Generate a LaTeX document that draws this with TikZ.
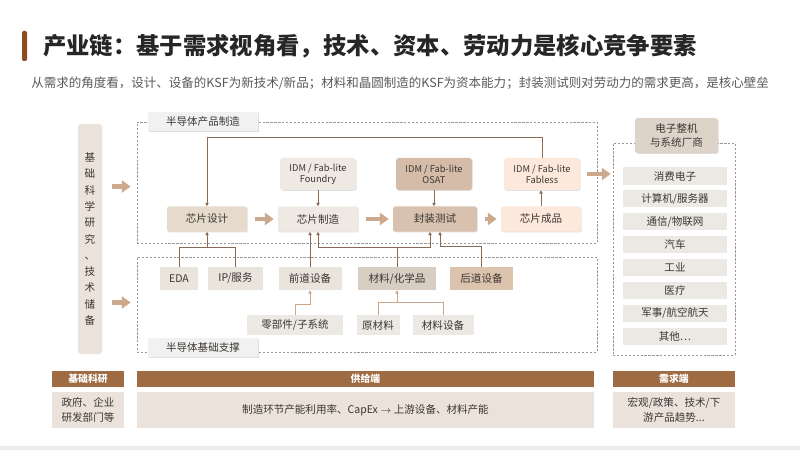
\documentclass[tikz,border=0pt]{standalone}
\usepackage{fontspec}
\setmainfont{Noto Sans CJK SC}
\usepackage{tikz}
\usetikzlibrary{positioning, arrows.meta, shadows}

\definecolor{bark}{HTML}{8E4B23}
\definecolor{ink}{HTML}{3A3632}
\definecolor{linkc}{HTML}{8A6B55}
\definecolor{palelinkc}{HTML}{C9A68C}
\definecolor{flowc}{HTML}{CCA98C}
\definecolor{sand}{HTML}{EBE3DB}
\definecolor{mist}{HTML}{ECE8E4}
\definecolor{fog}{HTML}{F1F1F1}
\definecolor{hdrc}{HTML}{9E6B43}
\definecolor{designc}{HTML}{E5DACB}
\definecolor{fabc}{HTML}{EFE9E3}
\definecolor{packc}{HTML}{D8C1AF}
\definecolor{osatc}{HTML}{D5BCA8}
\definecolor{finalc}{HTML}{FCE9DC}
\definecolor{oemc}{HTML}{DDD3C9}
\definecolor{lightc}{HTML}{E9E4DC}
\definecolor{matc}{HTML}{D8CDC3}
\definecolor{bec}{HTML}{DCC3AE}

\begin{document}
\begin{tikzpicture}[x=0.25mm, y=-0.25mm,
  font=\fontsize{7.5}{9}\selectfont, text=ink,
  shade/.style={drop shadow={shadow xshift=0.5pt, shadow yshift=-0.7pt, opacity=0.25}},
  stage/.style={rounded corners=1.5pt, minimum width=20mm, minimum height=6.25mm,
                inner sep=0pt, shade},
  maker/.style={rounded corners=2pt, minimum width=19mm, minimum height=8mm,
                inner sep=0pt, align=center, font=\fontsize{6.6}{7.8}\selectfont, shade},
  supply/.style={minimum height=5.75mm, inner sep=0pt},
  sub/.style={fill=mist, minimum height=5mm, inner sep=0pt},
  sect/.style={draw=black!40, dash pattern=on 1.6pt off 1.2pt, line width=0.5pt,
               inner sep=0pt},
  sectlab/.style={fill=fog, minimum width=27.5mm, minimum height=4.75mm,
                  inner sep=0pt, shade},
  item/.style={fill=mist, minimum width=26mm, minimum height=4.25mm, inner sep=0pt},
  hdr/.style={fill=hdrc, text=white, font=\fontsize{7}{8}\selectfont\bfseries,
              minimum height=4mm, inner sep=0pt},
  cell/.style={fill=sand, minimum height=9mm, inner sep=0pt, align=center,
               font=\fontsize{7.5}{11}\selectfont},
  wire/.style={draw=linkc, line width=0.6pt},
  link/.style={wire, -{Triangle[width=2.4pt,length=2.4pt]}},
  palewire/.style={draw=palelinkc, line width=0.6pt},
  palelink/.style={palewire, -{Triangle[width=2.4pt,length=2.4pt]}},
  flow/.style={draw=flowc, line width=1.1mm, -{Triangle[width=3mm,length=2.2mm]}}
]
\useasboundingbox (0,0) rectangle (800,450);
\fill[black!7] (0,446) rectangle (800,450);

% title
\fill[bark, rounded corners=1pt] (22,31) rectangle (27,61);
\node[anchor=west, inner sep=0pt, font=\fontsize{16.6}{20}\selectfont\bfseries,
      text=black!85] (title) at (43,46)
  {产业链：基于需求视角看，技术、资本、劳动力是核心竞争要素};
\node[anchor=west, inner sep=0pt, font=\fontsize{8.9}{11}\selectfont,
      text=black!65] (subtitle) at (31,83)
  {从需求的角度看，设计、设备的KSF为新技术/新品；材料和晶圆制造的KSF为资本能力；封装测试则对劳动力的需求更高，是核心壁垒};

% research column
\node[fill=sand, rounded corners=2pt, minimum width=6mm, minimum height=57.5mm,
      inner sep=0pt, align=center, font=\fontsize{7.5}{11.6}\selectfont]
  (research) at (90,239)
  {基\\础\\科\\学\\研\\究\\、\\技\\术\\储\\备};

% sections
\node[sect, minimum width=115mm, minimum height=30.25mm] (prodsec) at (367,182.5) {};
\node[sect, minimum width=115mm, minimum height=23.75mm] (basesec) at (367,304.5) {};
\node[sectlab] (prodlab) at (203,122) {半导体产品制造};
\node[sectlab] (baselab) at (203,347.5) {半导体基础支撑};

% product chain
\node[stage, fill=designc] (design) at (207,219) {芯片设计};
\node[stage, fill=fabc] (fab) at (318,219) {芯片制造};
\node[stage, fill=packc, minimum width=21mm] (pack) at (435,219) {封装测试};
\node[stage, fill=finalc] (final) at (541,219) {芯片成品};
\node[maker, fill=fabc] (idmfab) at (318,174) {IDM / Fab-lite\\Foundry};
\node[maker, fill=osatc] (idmosat) at (434,174) {IDM / Fab-lite\\OSAT};
\node[maker, fill=finalc] (idmfabless) at (542,174) {IDM / Fab-lite\\Fabless};

\draw[link] (idmfab) -- (fab);
\draw[link] (idmosat.south) -- (idmosat.south |- pack.north);
\draw[link] (final.north) -- (final.north |- idmfabless.south);
\draw[link] (idmfabless.north) -- ++(0,-20) -| (design.north);
\foreach \a/\b in {design/fab, fab/pack, pack/final}
  \draw[flow] ([xshift=2mm]\a.east) -- ([xshift=-1mm]\b.west);

% supporting base
\node[supply, fill=lightc, minimum width=9.5mm] (eda) at (179,278.5) {EDA};
\node[supply, fill=lightc, minimum width=13.75mm] (ip) at (235.5,278.5) {IP/服务};
\node[supply, fill=lightc, minimum width=15.75mm] (fe) at (310,278.5) {前道设备};
\node[supply, fill=matc, minimum width=19.5mm] (mat) at (397,278.5) {材料/化学品};
\node[supply, fill=bec, minimum width=15.75mm] (be) at (481.5,278.5) {后道设备};
\node[sub, minimum width=24mm] (parts) at (295,325) {零部件/子系统};
\node[sub, minimum width=10.75mm] (raw) at (378,325) {原材料};
\node[sub, minimum width=15.25mm] (mateq) at (443,325) {材料设备};

\draw[wire] (eda.north) -- ++(0,-19) coordinate (edaj) -| (ip.north);
\draw[link] (design.south |- edaj) -- (design.south);
\draw[link] (fe.north) -- (fe.north |- fab.south);
\draw[wire] (mat.north) -- ++(0,-19) coordinate (matj);
\draw[link] (matj) -| (fab.south);
\draw[link] (matj) -| ([xshift=-1.25mm]pack.south);
\draw[link] (be.north) -- ++(0,-20) -| ([xshift=1.25mm]pack.south);
\draw[palelink] (parts.north) -- ++(0,-10) -| (fe.south);
\draw[palewire] (raw.north) -- ++(0,-12) coordinate (rawj) -| (mateq.north);
\draw[palelink] (mat.south |- rawj) -- (mat.south);

% demand side
\node[sect, minimum width=30.5mm, minimum height=53mm] (dembox) at (674,249) {};
\node[fill=oemc, rounded corners=2pt, minimum width=20.75mm, minimum height=8.75mm,
      inner sep=0pt, align=center, font=\fontsize{7.5}{10}\selectfont, shade]
  (oem) at (676.5,135.5) {电子整机\\与系统厂商};
\foreach \lab [count=\i] in {消费电子, {计算机/服务器}, {通信/物联网}, 汽车, 工业,
                             医疗, {军事/航空航天}, {其他\ldots}}
  \node[item] (d\i) at (675,153.1+22.9*\i) {\lab};

% flows into and out of the chain
\draw[flow] ([xshift=2.5mm,yshift=-1mm]research.east |- prodsec.west)
  -- ([xshift=-1.5mm,yshift=-1mm]prodsec.west);
\draw[flow] ([xshift=2.5mm,yshift=0.5mm]research.east |- basesec.west)
  -- ([xshift=-1.5mm,yshift=0.5mm]basesec.west);
\draw[flow] ([xshift=-2.5mm]prodsec.east |- idmfabless) -- ([xshift=-0.5mm]dembox.west |- idmfabless);

% bottom table
\node[hdr, minimum width=18mm] (h1) at (88,379) {基础科研};
\node[hdr, minimum width=114.25mm] (h2) at (365.5,379) {供给端};
\node[hdr, minimum width=30.5mm] (h3) at (674,379) {需求端};
\node[cell, minimum width=18mm] (c1) at (88,410) {政府、企业\\研发部门等};
\node[cell, minimum width=114.25mm] (c2) at (365.5,410)
  {制造环节产能利用率、CapEx $\rightarrow$ 上游设备、材料产能};
\node[cell, minimum width=30.5mm] (c3) at (674,410) {宏观/政策、技术/下\\游产品趋势...};
\end{tikzpicture}
\end{document}
